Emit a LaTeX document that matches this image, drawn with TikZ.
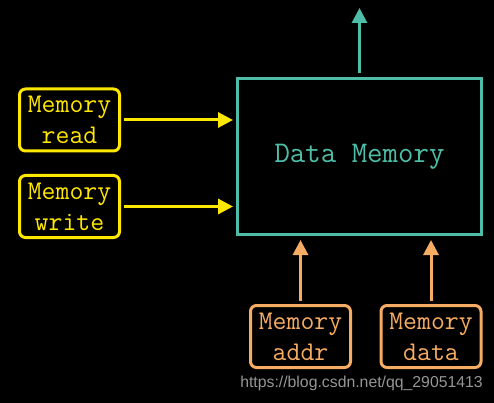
\documentclass[tikz,border=0pt]{standalone}
\usepackage{fontspec}
\newfontfamily\wmfont{Liberation Sans}
\usetikzlibrary{arrows.meta}
\definecolor{ylw}{RGB}{255,232,0}
\definecolor{teal2}{RGB}{78,190,168}
\definecolor{orng}{RGB}{246,172,98}
\definecolor{wmgray}{RGB}{150,150,150}
\tikzset{
  sigbox/.style={draw, line width=3pt, rounded corners=6pt, minimum width=100pt, minimum height=62pt, inner sep=0pt, align=center, font=\ttfamily\fontsize{27}{31}\selectfont},
  membox/.style={draw=teal2, line width=3pt, minimum width=244pt, minimum height=156pt, inner sep=0pt, text=teal2, font=\ttfamily\fontsize{30}{36}\selectfont},
  conn/.style={line width=3pt, -{Triangle[length=15pt,width=15pt]}},
}
\begin{document}
\begin{tikzpicture}[x=1pt,y=-1pt]
\fill[black] (0,0) rectangle (494,403);
\useasboundingbox (0,0) rectangle (494,403);
\node[membox] (dm) at (359.5,156.5) {Data Memory};
\node[sigbox, ylw, text=ylw] (rd) at (69.5,120) {Memory\\read};
\node[sigbox, ylw, text=ylw] (wr) at (69.5,206.5) {Memory\\write};
\node[sigbox, orng, text=orng] (ad) at (300.5,336.5) {Memory\\addr};
\node[sigbox, orng, text=orng] (da) at (431,336.5) {Memory\\data};
\coordinate (out) at (359.5,8);
\draw[conn, ylw, shorten <=3pt, shorten >=3pt] (rd.east) -- (rd.east -| dm.west);
\draw[conn, ylw, shorten <=3pt, shorten >=3pt] (wr.east) -- (wr.east -| dm.west);
\draw[conn, orng, shorten <=3pt, shorten >=4pt] (ad.north) -- (ad.north |- dm.south);
\draw[conn, orng, shorten <=3pt, shorten >=4pt] (da.north) -- (da.north |- dm.south);
\draw[conn, teal2, shorten <=4pt] (dm.north) -- (out);
\node[text=wmgray, font=\wmfont\fontsize{15.8}{17}\selectfont] (wm) at (361.5,383) {https://blog.csdn.net/qq\_29051413};
\end{tikzpicture}
\end{document}
